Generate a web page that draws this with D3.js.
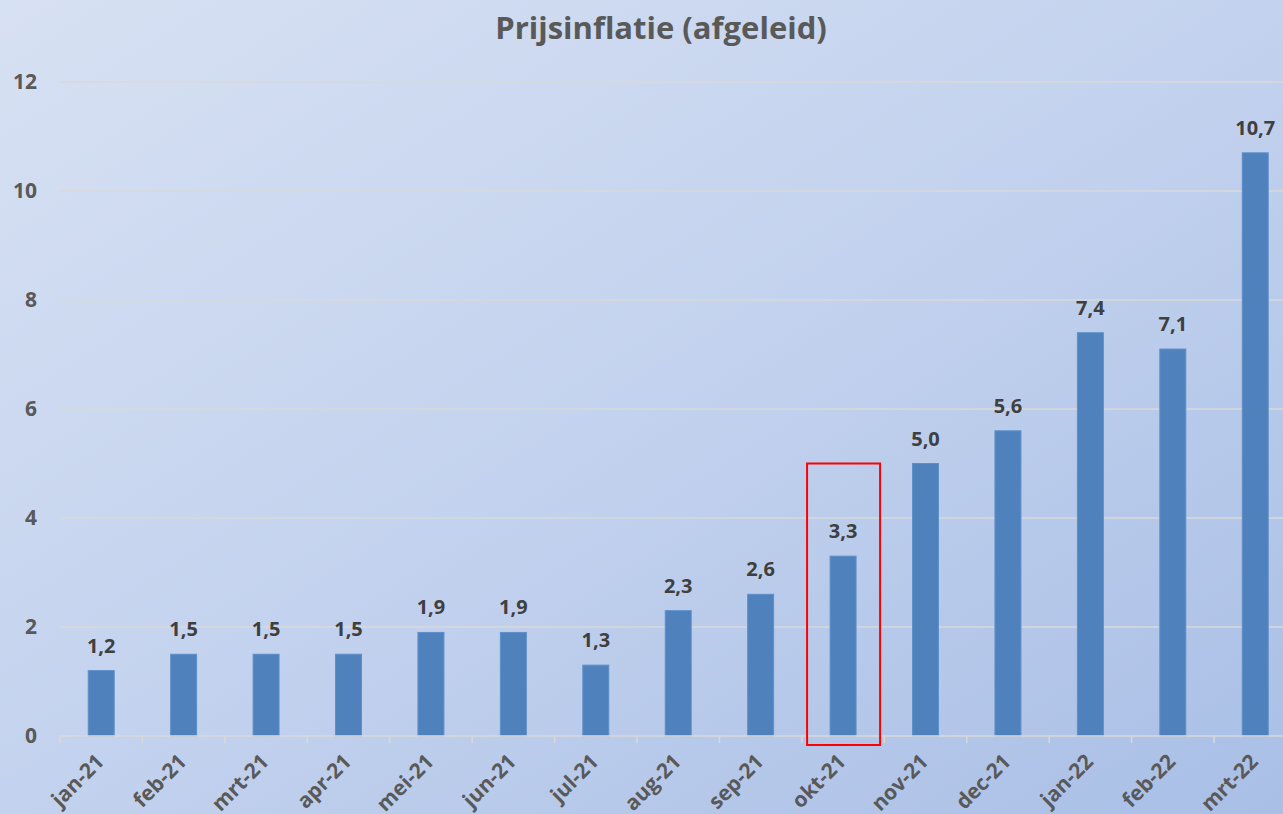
<!DOCTYPE html>
<html>
<head>
<meta charset="utf-8">
<script src="https://cdn.jsdelivr.net/npm/d3@7"></script>
<style>
  body { margin: 0; overflow: hidden; }
  text { font-family: "Open Sans", "Noto Sans", sans-serif; font-weight: bold; }
</style>
</head>
<body>
<div id="chart"></div>
<script>
var months = ["jan-21", "feb-21", "mrt-21", "apr-21", "mei-21", "jun-21", "jul-21", "aug-21",
              "sep-21", "okt-21", "nov-21", "dec-21", "jan-22", "feb-22", "mrt-22"];
var inflation = [1.2, 1.5, 1.5, 1.5, 1.9, 1.9, 1.3, 2.3, 2.6, 3.3, 5.0, 5.6, 7.4, 7.1, 10.7];
var yTicks = [0, 2, 4, 6, 8, 10, 12];
var highlight = { month: "okt-21", top: 5.0 };

var W = 1283, H = 814;

var svg = d3.select("#chart")
    .append("svg")
    .attr("width", W)
    .attr("height", H);

// background gradient
var defs = svg.append("defs");
var grad = defs.append("linearGradient")
    .attr("id", "bg")
    .attr("x1", "0%").attr("y1", "0%")
    .attr("x2", "100%").attr("y2", "100%");
grad.append("stop").attr("offset", "0%").attr("stop-color", "#d7e1f3");
grad.append("stop").attr("offset", "50%").attr("stop-color", "#c3d2ee");
grad.append("stop").attr("offset", "100%").attr("stop-color", "#a9bfe6");
svg.append("rect").attr("width", W).attr("height", H).attr("fill", "url(#bg)");

// scales (plot area runs a little past the right edge, like the cropped original)
var x = d3.scaleBand()
    .domain(months)
    .range([60, 60 + 15 * 82.43])
    .paddingInner(0.685)
    .paddingOuter(0.3425);

var y = d3.scaleLinear()
    .domain([0, 12])
    .range([736, 82]);

// gridlines
svg.append("g")
    .selectAll("line")
    .data(yTicks.slice(1))
    .enter()
    .append("line")
    .attr("x1", 60)
    .attr("x2", W)
    .attr("y1", function (d) { return y(d) })
    .attr("y2", function (d) { return y(d) })
    .attr("stroke", "#d9d9d9")
    .attr("stroke-width", 1.5);

// y labels
svg.append("g")
    .selectAll("text")
    .data(yTicks)
    .enter()
    .append("text")
    .attr("x", 37)
    .attr("y", function (d) { return y(d) })
    .attr("dy", "0.35em")
    .attr("text-anchor", "end")
    .attr("fill", "#595959")
    .style("font-size", "21px")
    .text(function (d) { return d });

// bars
svg.append("g")
    .selectAll("rect")
    .data(inflation)
    .enter()
    .append("rect")
    .attr("x", function (d, i) { return x(months[i]) })
    .attr("y", function (d) { return y(d) })
    .attr("width", x.bandwidth())
    .attr("height", function (d) { return y(0) - y(d) })
    .attr("fill", "#4f81bd")
    .attr("stroke", "#5f8fc8")
    .attr("stroke-width", 1);

// x axis line + ticks between categories
var step = x.step();
svg.append("line")
    .attr("x1", 60).attr("x2", W)
    .attr("y1", y(0)).attr("y2", y(0))
    .attr("stroke", "#d9d9d9")
    .attr("stroke-width", 1.5);
svg.append("g")
    .selectAll("line")
    .data(d3.range(months.length + 1))
    .enter()
    .append("line")
    .attr("x1", function (i) { return 60 + i * step })
    .attr("x2", function (i) { return 60 + i * step })
    .attr("y1", y(0))
    .attr("y2", y(0) + 7)
    .attr("stroke", "#d9d9d9")
    .attr("stroke-width", 1.5);

// x labels
svg.append("g")
    .selectAll("text")
    .data(months)
    .enter()
    .append("text")
    .attr("transform", function (d) {
        return "translate(" + (x(d) + x.bandwidth() / 2 + 4) + "," + (y(0) + 27) + ") rotate(-45)";
    })
    .attr("text-anchor", "end")
    .attr("fill", "#595959")
    .style("font-size", "21px")
    .text(function (d) { return d });

// value labels
svg.append("g")
    .selectAll("text")
    .data(inflation)
    .enter()
    .append("text")
    .attr("x", function (d, i) { return x(months[i]) + x.bandwidth() / 2 })
    .attr("y", function (d) { return y(d) - 25 })
    .attr("dy", "0.35em")
    .attr("text-anchor", "middle")
    .attr("fill", "#3f3f3f")
    .style("font-size", "20px")
    .text(function (d) { return d3.format(".1f")(d).replace(".", ",") });

// red highlight box
var hx = x(highlight.month) + x.bandwidth() / 2;
svg.append("rect")
    .attr("x", hx - 36)
    .attr("y", y(highlight.top))
    .attr("width", 73)
    .attr("height", y(0) + 9 - y(highlight.top))
    .attr("fill", "none")
    .attr("stroke", "#ff0000")
    .attr("stroke-width", 2);

// title
svg.append("text")
    .attr("x", 661)
    .attr("y", 28)
    .attr("dy", "0.35em")
    .attr("text-anchor", "middle")
    .attr("fill", "#595959")
    .style("font-size", "31px")
    .text("Prijsinflatie (afgeleid)");
</script>
</body>
</html>
